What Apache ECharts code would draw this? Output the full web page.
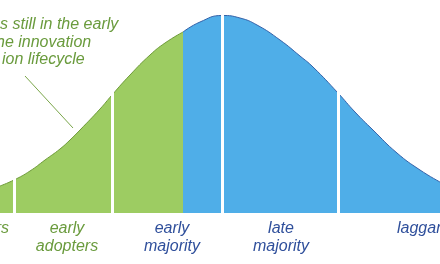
<!DOCTYPE html>
<html>
<head>
<meta charset="utf-8">
<script src="https://cdn.jsdelivr.net/npm/echarts@6/dist/echarts.min.js"></script>
<style>
html,body{margin:0;padding:0;background:#fff;}
#c{width:440px;height:264px;}
</style>
</head>
<body>
<div id="c"></div>
<script>
// ---- data ----
var greenX = [0, 14, 30, 45, 60, 70, 80, 100, 112, 130, 150, 165, 183];
var greenH = [27, 33, 42, 53, 64, 73, 83, 104, 118, 138, 158, 170, 181];
var blueX  = [183, 200, 222, 240, 257, 280, 300, 313, 338, 355, 373, 397, 420, 440];
var blueH  = [181, 191, 197.5, 195, 188, 173, 157, 146, 120, 101, 83, 60, 43, 31];
var dividers = [14, 112, 222, 338];
var segmentLabels = ["innovators", "early\nadopters", "early\nmajority", "late\nmajority", "laggards"];
var noteLines = ["s still in the early", "he innovation", "ion lifecycle"];

// ---- layout / style ----
var labelAnchorX = [9, 67, 172, 281, 397];
var labelAlign = ['right', 'center', 'center', 'center', 'left'];
var labelColor = ['#6a9b3d', '#6a9b3d', '#2f4f9b', '#2f4f9b', '#2f4f9b'];
var noteX = [0, -4, 2];
var FONT = '"Liberation Sans", Arial, sans-serif';

function pairs(xs, ys) { return xs.map(function (x, i) { return [x, ys[i]]; }); }

var chart = echarts.init(document.getElementById('c'), null, { renderer: 'canvas' });
chart.setOption({
  animation: false,
  backgroundColor: '#ffffff',
  grid: { left: 0, right: 0, top: 13, bottom: 51, containLabel: false },
  xAxis: { type: 'value', min: 0, max: 440, show: false },
  yAxis: { type: 'value', min: 0, max: 200, show: false },
  series: [
    {
      type: 'line', data: pairs(greenX, greenH), smooth: true, showSymbol: false, silent: true,
      lineStyle: { color: '#6e9a3a', width: 1 },
      areaStyle: { color: '#9dcc62', opacity: 1 },
      z: 2
    },
    {
      type: 'line', data: pairs(blueX, blueH), smooth: true, showSymbol: false, silent: true,
      lineStyle: { color: '#3461a8', width: 1 },
      areaStyle: { color: '#4faee8', opacity: 1 },
      z: 2
    },
    {
      type: 'line', data: [], z: 5, silent: true,
      markLine: {
        silent: true, symbol: ['none', 'none'], animation: false,
        label: { show: false },
        lineStyle: { color: '#ffffff', width: 3, type: 'solid' },
        data: dividers.map(function (d) { return { xAxis: d }; })
      }
    }
  ]
});

var graphics = [];
segmentLabels.forEach(function (t, i) {
  var p = chart.convertToPixel({ gridIndex: 0 }, [labelAnchorX[i], 0]);
  graphics.push({
    type: 'text', x: p[0], y: 220, silent: true, z: 100,
    style: {
      text: t, textAlign: labelAlign[i], textVerticalAlign: 'top',
      fill: labelColor[i], font: 'italic 16px ' + FONT, lineHeight: 17.5
    }
  });
});
noteLines.forEach(function (t, i) {
  graphics.push({
    type: 'text', x: noteX[i], y: 16.2 + i * 17.5, silent: true, z: 100,
    style: { text: t, textAlign: 'left', textVerticalAlign: 'top', fill: '#6a9b3d', font: 'italic 16px ' + FONT, lineHeight: 17.5 }
  });
});
graphics.push({
  type: 'line', silent: true, z: 100,
  shape: { x1: 25, y1: 76, x2: 73, y2: 128 },
  style: { stroke: '#7aa64a', lineWidth: 1 }
});
chart.setOption({ graphic: graphics });
</script>
</body>
</html>
